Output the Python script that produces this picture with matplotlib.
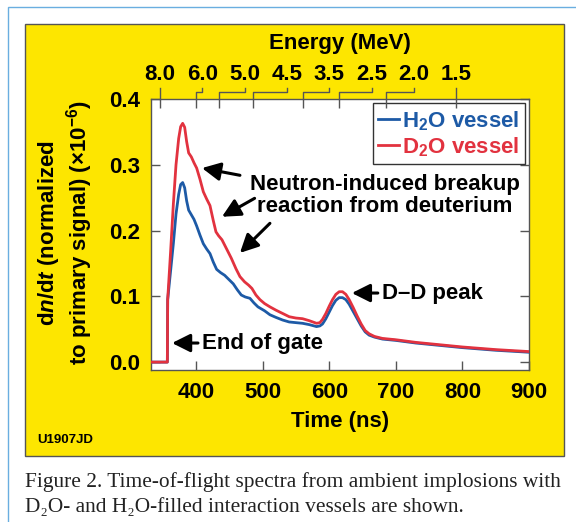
import matplotlib
matplotlib.use("Agg")
import matplotlib.pyplot as plt
import matplotlib.transforms as mtransforms
from matplotlib.patches import Rectangle
import numpy as np

plt.rcParams['font.family'] = ['Liberation Sans', 'DejaVu Sans']
plt.rcParams['font.weight'] = 'bold'
plt.rcParams['mathtext.fontset'] = 'custom'
plt.rcParams['mathtext.rm'] = 'Liberation Sans:bold'
plt.rcParams['mathtext.it'] = 'Liberation Sans:italic:bold'
plt.rcParams['mathtext.bf'] = 'Liberation Sans:bold'

# time-of-flight spectra (ns, normalized dn/dt x1e-6)
time_d2o = [332, 357, 357.5, 362, 366, 370, 374, 377, 380, 383, 386, 389, 393, 397,
            401, 406, 411, 416, 421, 426, 430, 434, 439, 446, 453, 460, 466, 473,
            479, 484, 490, 496, 503, 511, 520, 530, 540, 550, 560, 570, 581, 586,
            590, 595, 600, 605, 610, 615, 620, 625, 630, 636, 642, 648, 654, 660,
            668, 680, 700, 730, 760, 800, 850, 900]
d2o = [0.0, 0.0, 0.095, 0.17, 0.24, 0.30, 0.34, 0.358, 0.363, 0.357, 0.335, 0.318,
       0.312, 0.303, 0.295, 0.278, 0.259, 0.248, 0.238, 0.215, 0.198, 0.192, 0.186,
       0.172, 0.158, 0.142, 0.130, 0.122, 0.117, 0.112, 0.102, 0.095, 0.089, 0.084,
       0.079, 0.074, 0.069, 0.067, 0.066, 0.063, 0.059, 0.060, 0.065, 0.074, 0.085,
       0.095, 0.103, 0.107, 0.107, 0.103, 0.095, 0.083, 0.070, 0.058, 0.048, 0.043,
       0.039, 0.036, 0.034, 0.030, 0.027, 0.023, 0.019, 0.016]

time_h2o = [332, 357, 357.5, 362, 366, 370, 374, 377, 380, 383, 386, 389, 393, 397,
            401, 406, 411, 416, 421, 426, 431, 437, 443, 450, 456, 462, 468, 474,
            481, 487, 493, 503, 511, 520, 530, 540, 550, 560, 570, 581, 586, 590,
            595, 600, 605, 610, 615, 620, 625, 630, 636, 642, 648, 654, 660, 668,
            680, 700, 730, 760, 800, 850, 900]
h2o = [0.0, 0.0, 0.095, 0.14, 0.18, 0.225, 0.255, 0.27, 0.273, 0.265, 0.245, 0.231,
       0.224, 0.217, 0.207, 0.193, 0.180, 0.172, 0.165, 0.152, 0.141, 0.136, 0.132,
       0.125, 0.119, 0.110, 0.102, 0.099, 0.097, 0.090, 0.084, 0.078, 0.072, 0.068,
       0.064, 0.061, 0.060, 0.059, 0.057, 0.054, 0.055, 0.058, 0.066, 0.076, 0.086,
       0.094, 0.098, 0.098, 0.095, 0.088, 0.077, 0.066, 0.055, 0.046, 0.041, 0.038,
       0.035, 0.033, 0.029, 0.026, 0.022, 0.018, 0.015]

energy_labels = ['8.0', '6.0', '5.0', '4.5', '3.5', '2.5', '2.0', '1.5']
energy_ticks = [346, 399.5, 435, 486, 561, 614, 686, 791]   # ns

time_ticks = [400, 500, 600, 700, 800, 900]
y_ticks = [0.0, 0.1, 0.2, 0.3, 0.4]

BLUE = '#1d5aa6'
RED = '#e2323f'
YELLOW = '#fde600'
GRAY = '#555555'
FS = 16

fig = plt.figure(figsize=(5.76, 5.22), dpi=100)

# outer frame and yellow panel
fig.patches.append(Rectangle((8 / 576, -0.1), 1.2, 1.1 - 7 / 522, transform=fig.transFigure,
                             facecolor='white', edgecolor='#6aaee0', lw=1.0, zorder=-3))
fig.patches.append(Rectangle((25 / 576, 1 - 456 / 522), (564 - 25) / 576, (456 - 24) / 522,
                             transform=fig.transFigure, facecolor=YELLOW,
                             edgecolor=GRAY, lw=1.0, zorder=-2))

ax = fig.add_axes([150.7 / 576, 1 - 370 / 522, (529 - 150.7) / 576, (370 - 99) / 522])
ax.set_facecolor('white')

ax.plot(time_h2o, h2o, color=BLUE, lw=2.0, label='H$_2$O vessel', zorder=3)
ax.plot(time_d2o, d2o, color=RED, lw=2.0, label='D$_2$O vessel', zorder=3)

ax.set_xlim(332, 900)
ax.set_ylim(-0.012, 0.4)
ax.set_xticks(time_ticks)
ax.set_yticks(y_ticks)
ax.set_yticklabels(['%.1f' % v for v in y_ticks])
ax.tick_params(axis='both', direction='in', length=6.5, width=1, color=GRAY,
               labelsize=FS, right=True)
ax.tick_params(axis='x', pad=9)
ax.tick_params(axis='y', pad=7.5)
for s in ax.spines.values():
    s.set_color(GRAY)
    s.set_linewidth(1.0)

# energy axis on top
ax2 = ax.twiny()
ax2.set_xlim(ax.get_xlim())
ax2.set_xticks(energy_ticks)
ax2.set_xticklabels([])
ax2.tick_params(axis='x', direction='in', length=6.5, width=1, color=GRAY)
for s in ax2.spines.values():
    s.set_visible(False)

label_pos = np.linspace(energy_ticks[0], energy_ticks[-1], len(energy_labels))
trans = mtransforms.blended_transform_factory(ax.transData, ax.transAxes)
h1, h2 = 7 / 271, 11 / 271
for t, lp, lab in zip(energy_ticks, label_pos, energy_labels):
    if abs(t - lp) < 2:
        ax.plot([t, t], [1, 1 + h2], color=GRAY, lw=1, transform=trans, clip_on=False)
    else:
        ax.plot([t, t, lp, lp], [1, 1 + h1, 1 + h1, 1 + h2], color=GRAY, lw=1,
                transform=trans, clip_on=False)
    ax.text(lp, 1 + 24 / 271, lab, fontsize=FS, ha='center', va='center', transform=trans)

leg = ax.legend(loc='upper right', fontsize=FS, handlelength=0.95, handletextpad=0.1,
                labelspacing=0.12, borderpad=0.25, borderaxespad=0.2, fancybox=False,
                framealpha=1, edgecolor='#333333', labelcolor='linecolor')
leg.get_frame().set_linewidth(1.0)

arrow = dict(arrowstyle='-|>,head_length=1.1,head_width=0.55', color='black', lw=2.2,
             shrinkA=0, shrinkB=0)
for head, tail in [((409, 0.295), (466, 0.284)),
                   ((439, 0.221), (488, 0.249)),
                   ((466, 0.166), (511, 0.211))]:
    ax.annotate('', xy=head, xytext=tail, arrowprops=arrow)
ax.text(683, 0.253, 'Neutron-induced breakup\nreaction from deuterium', fontsize=FS,
        ha='center', va='center', linespacing=1.1)

ax.annotate('', xy=(634, 0.105), xytext=(673, 0.105), arrowprops=arrow)
ax.text(680, 0.105, 'D\u2013D peak', fontsize=FS, ha='left', va='center')

ax.annotate('', xy=(364, 0.029), xytext=(403, 0.029), arrowprops=arrow)
ax.text(409, 0.029, 'End of gate', fontsize=FS, ha='left', va='center')

fig.text(340 / 576, 1 - 43 / 522, 'Energy (MeV)', fontsize=FS, ha='center', va='center')
fig.text(340 / 576, 1 - 422 / 522, 'Time (ns)', fontsize=FS, ha='center', va='center')
fig.text(65.5 / 576, 1 - 233 / 522,
         'd$n$/d$t$ (normalized\nto primary signal) (\u00d7$10^{-6}$)',
         fontsize=FS, rotation=90, ha='center', va='center', multialignment='center',
         linespacing=1.15)
fig.text(37 / 576, 1 - 440 / 522, 'U1907JD', fontsize=9.5, ha='left', va='center')

serif = ['Liberation Serif', 'DejaVu Serif']
fig.text(25 / 576, 1 - 482 / 522,
         'Figure 2. Time-of-flight spectra from ambient implosions with',
         fontsize=15.4, family=serif, weight='normal', color='#222222',
         ha='left', va='center')
fig.text(25 / 576, 1 - 507 / 522,
         'D\u2082O- and H\u2082O-filled interaction vessels are shown.',
         fontsize=15.4, family=serif, weight='normal', color='#222222',
         ha='left', va='center')

fig.savefig('out.png', dpi=100)
